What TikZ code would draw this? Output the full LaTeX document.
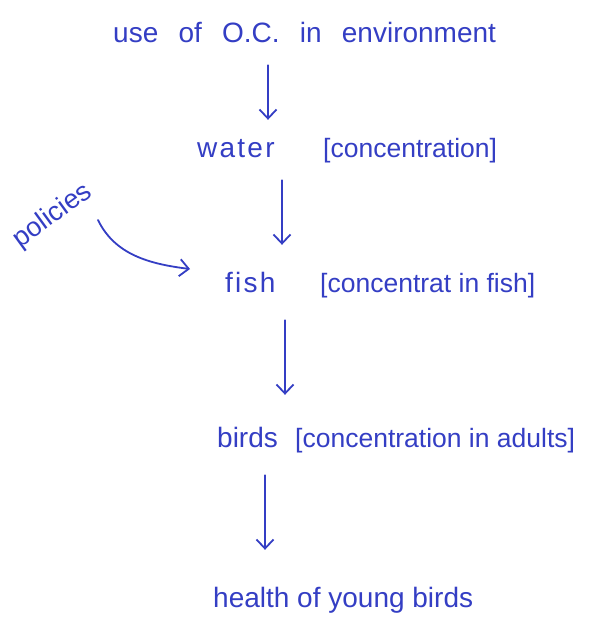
\documentclass[tikz,border=0pt]{standalone}
\usepackage{fontspec}
\setmainfont{Liberation Sans}
\newfontfamily\titlefont[WordSpace=2.6]{Liberation Sans}
\newfontfamily\widefont[LetterSpace=8]{Liberation Sans}
\usetikzlibrary{arrows.meta}
\definecolor{ink}{RGB}{52,62,196}
\tikzset{
  lbl/.style={text=ink, inner sep=0pt, anchor=west, text height=20pt, text depth=6pt,
    font=\fontsize{28}{30}\selectfont},
  brk/.style={text=ink, inner sep=0pt, anchor=west, text height=20pt, text depth=6pt,
    font=\fontsize{26.5}{28}\selectfont},
  arr/.style={draw=ink, line width=1.8pt, line cap=round,
    -{Straight Barb[length=9pt,width=17pt,line width=1.8pt]}}
}
\begin{document}
\begin{tikzpicture}[x=1pt,y=-1pt]
\useasboundingbox[fill=white] (0,0) rectangle (606,630);
\node[lbl, font=\titlefont\fontsize{28}{30}\selectfont] (title) at (113,35) {use of O.C. in environment};
\node[lbl, font=\widefont\fontsize{28}{30}\selectfont] (water) at (197,150) {water};
\node[brk] (waterc) at (323,150) {[concentration]};
\node[lbl, font=\widefont\fontsize{28}{30}\selectfont] (fish) at (225,285) {fish};
\node[brk] (fishc) at (320,285) {[concentrat in fish]};
\node[lbl] (birds) at (217,440) {birds};
\node[brk] (birdsc) at (295,440) {[concentration in adults]};
\node[lbl] (health) at (213,600) {health of young birds};
\node[text=ink, inner sep=0pt, font=\fontsize{27}{28}\selectfont, rotate=36] (pol) at (53,216) {policies};
\coordinate (polend) at (98,220);
\draw[arr, shorten <=17pt, shorten >=17pt] (title.south -| 268,0) -- (water.north -| 268,0);
\draw[arr, shorten <=17pt, shorten >=27pt] (water.south -| 282,0) -- (fish.north -| 282,0);
\draw[arr, shorten <=22pt, shorten >=32pt] (fish.south -| 285,0) -- (birds.north -| 285,0);
\draw[arr, shorten <=22pt, shorten >=37pt] (birds.south -| 265,0) -- (health.north -| 265,0);
\draw[arr] (polend) .. controls (115,255) and (150,264) .. ([xshift=-35pt,yshift=16pt]fish.west);
\end{tikzpicture}
\end{document}
